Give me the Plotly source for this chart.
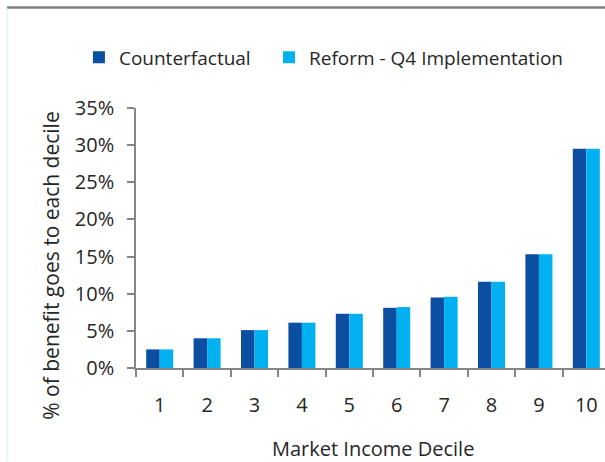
import plotly.graph_objects as go

deciles = ["1", "2", "3", "4", "5", "6", "7", "8", "9", "10"]
counterfactual = [0.025, 0.040, 0.051, 0.061, 0.073, 0.081, 0.095, 0.116, 0.153, 0.295]
reform_q4 = [0.025, 0.040, 0.051, 0.061, 0.073, 0.082, 0.096, 0.116, 0.153, 0.295]
y_ticks = [0, 0.05, 0.10, 0.15, 0.20, 0.25, 0.30, 0.35]
y_tick_labels = ["0%", "5%", "10%", "15%", "20%", "25%", "30%", "35%"]

DARK = "#0B4EA2"
LIGHT = "#00B0F0"
AXIS = "#868686"
TEXT = "#262626"
FONT = "Open Sans"

fig = go.Figure()
fig.add_trace(go.Bar(name="Counterfactual", x=deciles, y=counterfactual,
                     marker=dict(color=DARK, line=dict(width=0)), legend="legend"))
fig.add_trace(go.Bar(name="Reform - Q4 Implementation", x=deciles, y=reform_q4,
                     marker=dict(color=LIGHT, line=dict(width=0)), legend="legend2"))

legend_common = dict(orientation="h", yanchor="middle", xanchor="left",
                     font=dict(size=19, color=TEXT), bgcolor="rgba(0,0,0,0)",
                     itemwidth=30)

fig.update_layout(
    width=605, height=462,
    margin=dict(l=136, r=0, t=108, b=94, pad=0),
    paper_bgcolor="white", plot_bgcolor="white",
    font=dict(family=FONT, size=20, color=TEXT),
    barmode="group", bargap=0.43, bargroupgap=0,
    showlegend=True,
    legend=dict(x=-0.1217, y=1.195, **legend_common),
    legend2=dict(x=0.2836, y=1.195, **legend_common),
    xaxis=dict(
        type="category", range=[-0.5, 9.394],
        showline=True, linecolor=AXIS, linewidth=1.5,
        ticks="outside", ticklen=7, tickcolor=AXIS, tickwidth=1.5,
        tickson="boundaries", showgrid=False, zeroline=False,
        ticklabelstandoff=18, tickfont=dict(size=20),
    ),
    yaxis=dict(
        range=[0, 0.35], tickvals=y_ticks, ticktext=y_tick_labels,
        showline=True, linecolor=AXIS, linewidth=1.5,
        ticks="outside", ticklen=7, tickcolor=AXIS, tickwidth=1.5,
        showgrid=False, zeroline=False,
        ticklabelstandoff=9, tickfont=dict(size=20),
    ),
    annotations=[
        dict(text="Market Income Decile", xref="paper", yref="paper",
             x=0.505, y=-0.3077, xanchor="center", yanchor="middle",
             showarrow=False, font=dict(size=20, color=TEXT)),
        dict(text="% of benefit goes to each decile", xref="paper", yref="paper",
             x=-0.182, y=0.392, xanchor="center", yanchor="middle", textangle=-90,
             showarrow=False, font=dict(size=21, color=TEXT)),
    ],
    shapes=[
        dict(type="line", xref="paper", yref="paper", x0=-0.275, x1=1.0,
             y0=1.3865, y1=1.3865, line=dict(color="#7F7F7F", width=2.5)),
        dict(type="line", xref="paper", yref="paper", x0=-0.275, x1=-0.275,
             y0=1.382, y1=-0.36, line=dict(color="#E3F3F8", width=1.5)),
    ],
)

fig.write_html("out.html", config={"displayModeBar": False},
               post_script="document.body.style.margin='0';")
